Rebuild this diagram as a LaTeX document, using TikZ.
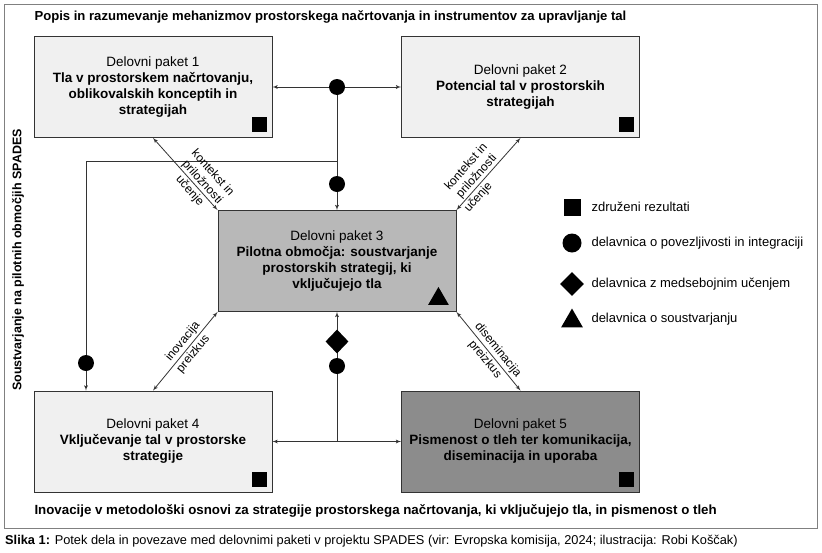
\documentclass[tikz,border=0pt]{standalone}
\usepackage{fontspec}
\setmainfont{Liberation Sans}
\usetikzlibrary{arrows}
\usetikzlibrary{positioning}
\usetikzlibrary{shapes.geometric}

\definecolor{svetla}{gray}{0.94}
\definecolor{srednja}{gray}{0.72}
\definecolor{temna}{gray}{0.55}
\definecolor{crta}{gray}{0.2}

\tikzset{
  paket/.style={draw=crta, line width=0.9pt, minimum width=238pt, minimum height=101pt,
    align=center, inner sep=0pt, font=\fontsize{13.5}{16}\selectfont},
  kvadrat/.style={fill=black, minimum size=15pt, inner sep=0pt},
  krog/.style={circle, fill=black, minimum size=16pt, inner sep=0pt},
  romb/.style={diamond, fill=black, minimum width=23pt, minimum height=24pt, inner sep=0pt},
  trikot/.style={regular polygon, regular polygon sides=3, fill=black, minimum size=24pt, inner sep=0pt},
  povezava/.style={draw=crta, line width=0.8pt},
  oznaka/.style={font=\fontsize{12}{14}\selectfont, inner sep=2pt, sloped},
  legenda/.style={font=\fontsize{13}{15}\selectfont, anchor=west}
}

\begin{document}
\begin{tikzpicture}[x=1pt, y=-1pt, >=latex']
  \useasboundingbox (0,0) rectangle (822,552);
  \draw[gray, line width=0.8pt] (4,4) rectangle (817,528);

  % delovni paketi
  \node[paket, fill=svetla] (wp1) at (153,87) {Delovni paket 1\\
    \textbf{Tla v prostorskem načrtovanju,}\\ \textbf{oblikovalskih konceptih in}\\ \textbf{strategijah}};
  \node[paket, fill=svetla] (wp2) at (520.5,87) {Delovni paket 2\\
    \textbf{Potencial tal v prostorskih}\\ \textbf{strategijah}};
  \node[paket, fill=srednja] (wp3) at (337,261) {Delovni paket 3\\
    \textbf{Pilotna območja: soustvarjanje}\\ \textbf{prostorskih strategij, ki}\\ \textbf{vključujejo tla}};
  \node[paket, fill=svetla] (wp4) at (153,441.5) {Delovni paket 4\\
    \textbf{Vključevanje tal v prostorske}\\ \textbf{strategije}};
  \node[paket, fill=temna] (wp5) at (520.5,441.5) {Delovni paket 5\\
    \textbf{Pismenost o tleh ter komunikacija,}\\ \textbf{diseminacija in uporaba}};

  % oznake v kotih
  \foreach \p in {wp1, wp2, wp4, wp5}
    \node[kvadrat] at ([shift={(-13,-13)}]\p.south east) {};
  \node[trikot] at ([shift={(-18,-13)}]wp3.south east) {};

  % povezave zgoraj
  \coordinate (vozel) at (wp3.north |- wp1.east);
  \coordinate (razcep) at (337,161);
  \coordinate (kot) at (86,161);
  \draw[povezava, <->] (wp1.east) -- (wp2.west);
  \draw[povezava, ->] (vozel) -- (wp3.north);
  \draw[povezava, ->] (razcep) -- (kot) -- (kot |- wp4.north);
  \node[krog] at (vozel) {};
  \node[krog] at (337,184) {};
  \node[krog] at (86,363) {};

  % povezave spodaj
  \coordinate (spodaj) at (wp3.south |- wp4.east);
  \draw[povezava, <->] (wp4.east) -- (wp5.west);
  \draw[povezava, ->] (spodaj) -- (wp3.south);
  \node[romb] at (337,341.5) {};
  \node[krog] at (337,366) {};

  % diagonale
  \draw[povezava, <->] (wp1.south) -- (wp3.north west)
    node[pos=0.68, above, oznaka, align=center, inner sep=1pt] {kontekst in\\ priložnosti}
    node[pos=0.66, below, oznaka] {učenje};
  \draw[povezava, <->] (wp2.south) -- (wp3.north east)
    node[pos=0.6, above, oznaka, align=center, inner sep=1pt] {kontekst in\\ priložnosti}
    node[pos=0.75, below, oznaka] {učenje};
  \draw[povezava, <->] (wp3.south west) -- (wp4.north)
    node[pos=0.44, above, oznaka] {inovacija}
    node[pos=0.47, below, oznaka] {preizkus};
  \draw[povezava, <->] (wp3.south east) -- (wp5.north)
    node[pos=0.55, above, oznaka] {diseminacija}
    node[pos=0.54, below, oznaka] {preizkus};

  % legenda
  \node[kvadrat, minimum size=17pt] (l1) at (572,207) {};
  \node[krog, minimum size=19pt] (l2) at (572,243) {};
  \node[romb, minimum width=24pt, minimum height=24pt] (l3) at (572,284) {};
  \node[trikot, minimum size=25pt] (l4) at (572,321) {};
  \node[legenda] at (588,207) {združeni rezultati};
  \node[legenda] at (588,243) {delavnica o povezljivosti in integraciji};
  \node[legenda] at (588,284) {delavnica z medsebojnim učenjem};
  \node[legenda] at (588,319) {delavnica o soustvarjanju};

  % naslovi
  \node[anchor=west, font=\bfseries\fontsize{13.1}{15}\selectfont] (zgoraj) at (31,17)
    {Popis in razumevanje mehanizmov prostorskega načrtovanja in instrumentov za upravljanje tal};
  \node[anchor=west, font=\bfseries\fontsize{13.3}{15}\selectfont] (spodnji) at (31,511)
    {Inovacije v metodološki osnovi za strategije prostorskega načrtovanja, ki vključujejo tla, in pismenost o tleh};
  \node[rotate=90, font=\bfseries\fontsize{12.5}{14}\selectfont] (stran) at (18,260)
    {Soustvarjanje na pilotnih območjih SPADES};
  \node[anchor=west, font=\fontsize{12.8}{14}\selectfont, inner sep=0pt] (slika) at (5,541)
    {\textbf{Slika 1:} Potek dela in povezave med delovnimi paketi v projektu SPADES (vir: Evropska komisija, 2024; ilustracija: Robi Koščak)};
\end{tikzpicture}
\end{document}
